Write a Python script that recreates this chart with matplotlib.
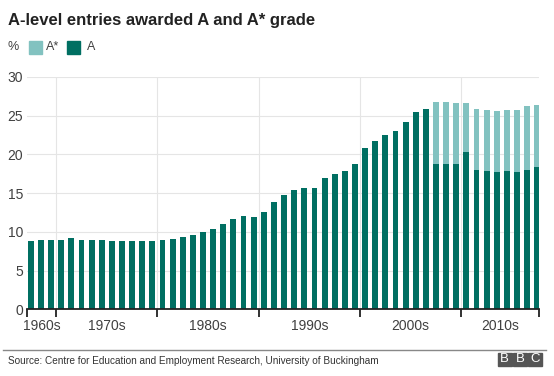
import matplotlib
matplotlib.use("Agg")
import matplotlib.pyplot as plt
from matplotlib.patches import Rectangle
import numpy as np

plt.rcParams["font.family"] = ["Liberation Sans", "DejaVu Sans"]

# Data (%), one bar per year
a_grade = [8.8, 8.9, 9.0, 9.0, 9.2, 9.0, 8.9, 8.9, 8.8, 8.8,
           8.8, 8.8, 8.8, 8.9, 9.1, 9.4, 9.65, 9.95, 10.4, 11.05,
           11.7, 12.0, 11.9, 12.6, 13.8, 14.75, 15.4, 15.7, 15.7, 16.9,
           17.5, 17.85, 18.7, 20.75, 21.7, 22.5, 22.95, 24.15, 25.4, 25.9,
           18.8, 18.8, 18.8, 20.35, 18.0, 17.9, 17.7, 17.9, 17.7, 18.0,
           18.35]
a_star = [0] * 40 + [7.9, 7.9, 7.75, 6.2, 7.9, 7.8, 7.85, 7.8, 8.0, 8.2,
                     8.05]
decades = ["1960s", "1970s", "1980s", "1990s", "2000s", "2010s"]
decade_breaks = [2.5, 12.5, 22.5, 32.5, 42.5]

dark = "#006f62"
light = "#82c2c0"
grey_text = "#404040"

fig = plt.figure(figsize=(5.54, 3.76), dpi=100)
ax = fig.add_axes([0.0493, 0.1769, 0.9242, 0.6191])

x = np.arange(len(a_grade))
ax.bar(x, a_grade, width=0.58, color=dark, zorder=3)
ax.bar(x, a_star, width=0.58, bottom=a_grade, color=light, zorder=3)

x0, x1 = -0.35, 50.2
ax.set_xlim(x0, x1)
ax.set_ylim(0, 30)

# decade separators as ticks, labels centred between them
edges = [x0] + decade_breaks + [x1]
ax.set_xticks(edges)
ax.set_xticklabels([])
ax.set_xticks([(a + b) / 2 for a, b in zip(edges[:-1], edges[1:])], minor=True)
ax.set_xticklabels(decades, minor=True)
ax.tick_params(axis="x", which="major", length=6, width=1.3, color="#222222")
ax.tick_params(axis="x", which="minor", length=0, pad=7, labelsize=10,
               labelcolor=grey_text)

ax.set_yticks([0, 5, 10, 15, 20, 25, 30])
ax.tick_params(axis="y", length=0, pad=3, labelsize=10, labelcolor=grey_text)

ax.grid(True, axis="y", color="#e5e5e5", linewidth=0.8, zorder=0)
for b in decade_breaks:
    ax.axvline(b, color="#e5e5e5", linewidth=0.8, zorder=0)
for side in ["top", "right", "left"]:
    ax.spines[side].set_visible(False)
ax.spines["bottom"].set_linewidth(1.3)
ax.spines["bottom"].set_color("#222222")
ax.spines["bottom"].set_zorder(4)

# title and legend
W, H = 554, 376
fig.text(8 / W, 1 - 21 / H, "A-level entries awarded A and A* grade",
         fontsize=12, fontweight="bold", color="#222222", va="center")
fig.text(8 / W, 1 - 47.5 / H, "%", fontsize=9, color=grey_text, va="center")
for left, col, label, tx in [(29, light, "A*", 45.5), (67, dark, "A", 87)]:
    fig.patches.append(Rectangle((left / W, 1 - 54 / H), 13 / W, 13 / H,
                                 color=col, transform=fig.transFigure))
    fig.text(tx / W, 1 - 47.5 / H, label, fontsize=9, color=grey_text,
             va="center")

# footer
fig.add_artist(plt.Line2D([3 / W, 546 / W], [1 - 350 / H, 1 - 350 / H],
                          color="#888888", linewidth=1,
                          transform=fig.transFigure))
fig.text(8 / W, 1 - 360.5 / H,
         "Source: Centre for Education and Employment Research, University of Buckingham",
         fontsize=7.2, color="#333333", va="center")
for i, letter in enumerate("BBC"):
    left = 498 + i * 15.2
    fig.patches.append(Rectangle((left / W, 1 - 365.5 / H), 13.5 / W, 12.5 / H,
                                 color="#555555", transform=fig.transFigure))
    fig.text((left + 6.75) / W, 1 - 359.5 / H, letter, fontsize=9.5,
             color="white", ha="center", va="center")

fig.savefig("out.png", dpi=100, facecolor="white")
